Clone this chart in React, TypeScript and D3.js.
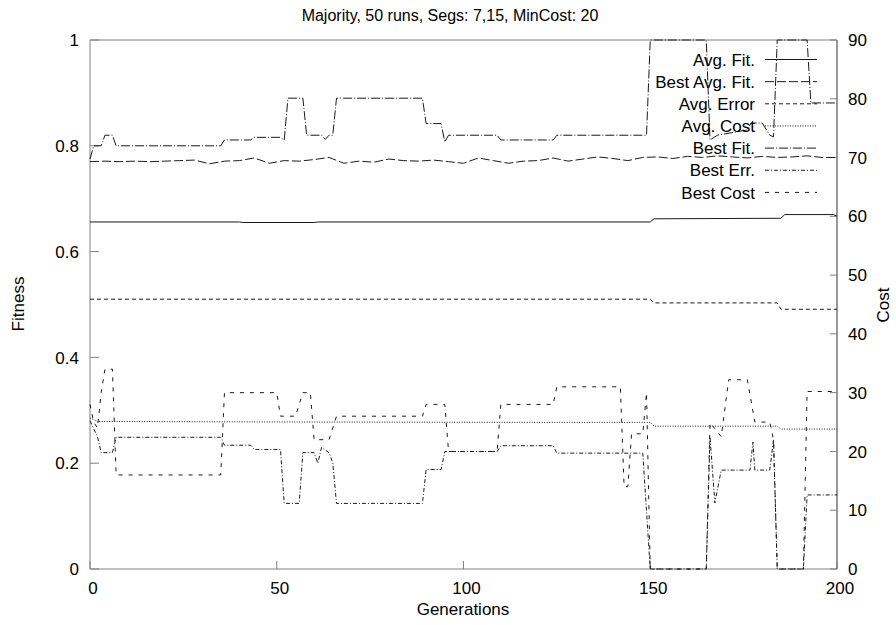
import React from "react";
import * as d3 from "d3";

const TITLE = "Majority, 50 runs, Segs: 7,15, MinCost: 20";
const genTicks = [0, 50, 100, 150, 200];
const fitTicks = [0, 0.2, 0.4, 0.6, 0.8, 1];
const costTicks = [0, 10, 20, 30, 40, 50, 60, 70, 80, 90];

const avgFit: [number, number][] = [
  [0, 0.656], [40, 0.656], [41, 0.655], [60, 0.655], [61, 0.656], [150, 0.656],
  [151, 0.662], [185, 0.663], [186, 0.670], [199, 0.670], [200, 0.667],
];

const bestAvgFitGen = [0, 4, 8, 12, 16, 20, 24, 28, 32, 36, 40, 44, 48, 52, 56, 60, 64, 68, 72, 76, 80, 84, 88, 92, 96, 100, 104, 108, 112, 116, 120, 124, 128, 132, 136, 140, 144, 148, 152, 156, 160, 164, 168, 172, 176, 180, 184, 188, 192, 196, 200];
const bestAvgFitVal = [0.770, 0.771, 0.770, 0.771, 0.770, 0.771, 0.772, 0.773, 0.766, 0.771, 0.772, 0.777, 0.767, 0.772, 0.771, 0.774, 0.778, 0.767, 0.771, 0.769, 0.775, 0.772, 0.771, 0.773, 0.770, 0.767, 0.777, 0.772, 0.767, 0.771, 0.772, 0.777, 0.771, 0.775, 0.779, 0.776, 0.772, 0.778, 0.779, 0.776, 0.780, 0.778, 0.781, 0.779, 0.777, 0.780, 0.778, 0.779, 0.781, 0.778, 0.778];

const avgError: [number, number][] = [
  [0, 0.51], [150, 0.51], [151, 0.503], [184, 0.503], [185, 0.491], [200, 0.491],
];

const avgCost: [number, number][] = [
  [0, 25.7], [2, 25.1], [60, 25.0], [120, 24.95], [150, 24.95], [151, 24.3], [184, 24.3], [185, 23.8], [200, 23.8],
];

const bestFit: [number, number][] = [
  [0, 0.775], [1, 0.80], [3, 0.80], [4, 0.82], [6, 0.82], [7, 0.80], [35, 0.80], [36, 0.811], [43, 0.811],
  [44, 0.816], [51, 0.816], [52, 0.811], [53, 0.89], [57, 0.89], [58, 0.82], [62, 0.82], [63, 0.812],
  [64, 0.82], [65, 0.82], [66, 0.89], [89, 0.89], [90, 0.842], [94, 0.842], [95, 0.807], [96, 0.82],
  [109, 0.82], [110, 0.811], [124, 0.811], [125, 0.82], [149, 0.82], [150, 1.0], [165, 1.0],
  [166, 0.811], [168, 0.82], [176, 0.83], [177, 0.843], [180, 0.843], [182, 0.82], [183, 0.817],
  [184, 1.0], [192, 1.0], [193, 0.881], [200, 0.881],
];

const bestErr: [number, number][] = [
  [0, 0.28], [2, 0.25], [3, 0.22], [6, 0.22], [7, 0.249], [35, 0.249], [36, 0.234], [43, 0.234],
  [44, 0.226], [51, 0.226], [52, 0.124], [56, 0.124], [57, 0.22], [60, 0.22], [61, 0.20], [62, 0.23],
  [64, 0.22], [65, 0.20], [66, 0.124], [89, 0.124], [90, 0.188], [94, 0.188], [95, 0.222], [109, 0.222],
  [110, 0.233], [124, 0.233], [125, 0.219], [148, 0.219], [150, 0], [165, 0], [166, 0.25], [167.3, 0.125],
  [169, 0.187], [176.7, 0.187], [177.5, 0.24], [178, 0.187], [182, 0.187], [183, 0.244], [184, 0],
  [191, 0], [192, 0.14], [200, 0.14],
];

const bestCost: [number, number][] = [
  [0, 28], [1, 25], [2, 24], [3, 30], [4, 34], [6, 34], [7, 16], [35, 16], [36, 30], [50, 30],
  [51, 26], [55, 26], [57, 30], [59, 30], [60, 22], [64, 22], [66, 26], [89, 26], [90, 28], [95, 28],
  [96, 20], [109, 20], [110, 28], [124, 28], [125, 31], [142, 31], [143, 14], [144, 14], [145, 23],
  [148, 23], [149, 30], [150, 0], [165, 0], [166, 24.9], [169, 22.5], [171, 32.2], [176, 32.2],
  [178, 25], [182, 25], [183, 22], [184, 0], [191, 0], [192, 30.2], [200, 30.2],
];

const W = 896, H = 625;
const L = 90, R = 837, T = 40, B = 569;

export default function App() {
  const x = d3.scaleLinear().domain([0, 200]).range([L, R]);
  const yF = d3.scaleLinear().domain([0, 1]).range([B, T]);
  const yC = d3.scaleLinear().domain([0, 90]).range([B, T]);
  const lineF = d3.line<[number, number]>().x(d => x(d[0])).y(d => yF(d[1]));
  const lineC = d3.line<[number, number]>().x(d => x(d[0])).y(d => yC(d[1]));
  const bestAvg: [number, number][] = bestAvgFitGen.map((g, i) => [g, bestAvgFitVal[i]]);

  const font = "'Liberation Sans', Arial, Helvetica, sans-serif";
  const lc = "#1a1a1a";
  const series = [
    { name: "Avg. Fit.", d: lineF(avgFit), dash: "none" },
    { name: "Best Avg. Fit.", d: lineF(bestAvg), dash: "9,3" },
    { name: "Avg. Error", d: lineF(avgError), dash: "4,3" },
    { name: "Avg. Cost", d: lineC(avgCost), dash: "1,1.5" },
    { name: "Best Fit.", d: lineF(bestFit), dash: "9,2,1,2" },
    { name: "Best Err.", d: lineF(bestErr), dash: "4,2,1,2" },
    { name: "Best Cost", d: lineC(bestCost), dash: "4,6" },
  ];
  const legY0 = 59.5, legStep = 22.15;

  return (
    <svg width={W} height={H} style={{ display: "block", position: "absolute", left: 0, top: 0 }} fontFamily={font}>
      <rect width={W} height={H} fill="#fff" />
      <defs>
        <clipPath id="plot">
          <rect x={L - 1} y={T - 1} width={R - L + 2} height={B - T + 2} />
        </clipPath>
      </defs>
      <text x={450} y={20.5} fontSize={16} textAnchor="middle" fill="#000">{TITLE}</text>
      <line x1={L} y1={T} x2={R} y2={T} stroke="#808080" />
      <line x1={L} y1={T} x2={L} y2={B} stroke="#808080" />
      <line x1={L} y1={B} x2={R} y2={B} stroke="#808080" />
      <line x1={R} y1={T} x2={R} y2={B} stroke="#333" />
      {fitTicks.map(t => (
        <g key={"f" + t}>
          <line x1={L} x2={L + 9} y1={yF(t)} y2={yF(t)} stroke="#808080" />
          <text x={79} y={yF(t)} dy="0.36em" fontSize={17} textAnchor="end">{t === 0 || t === 1 ? String(t) : t.toFixed(1)}</text>
        </g>
      ))}
      {costTicks.map(t => (
        <g key={"c" + t}>
          <line x1={R - 7} x2={R} y1={yC(t)} y2={yC(t)} stroke="#808080" />
          <text x={848} y={yC(t)} dy="0.36em" fontSize={17} textAnchor="start">{t}</text>
        </g>
      ))}
      {genTicks.map(t => (
        <g key={"g" + t}>
          <line x1={x(t)} x2={x(t)} y1={B} y2={B - 8} stroke="#808080" />
          <text x={x(t) + 3} y={588} dy="0.36em" fontSize={17} textAnchor="middle">{t}</text>
        </g>
      ))}
      <text x={463} y={609} dy="0.36em" fontSize={17} textAnchor="middle">Generations</text>
      <text transform="translate(18,304) rotate(-90)" dy="0.36em" fontSize={17} textAnchor="middle">Fitness</text>
      <text transform="translate(883,305) rotate(-90)" dy="0.36em" fontSize={17} textAnchor="middle">Cost</text>
      <g clipPath="url(#plot)">
        {series.map(s => (
          <path key={s.name} d={s.d ?? ""} fill="none" stroke={lc} strokeWidth={1} strokeDasharray={s.dash} />
        ))}
      </g>
      {series.map((s, i) => (
        <g key={"leg" + s.name}>
          <text x={755} y={legY0 + i * legStep} dy="0.36em" fontSize={17} textAnchor="end">{s.name}</text>
          <line x1={765} x2={817} y1={legY0 + i * legStep} y2={legY0 + i * legStep} stroke={lc} strokeDasharray={s.dash} />
        </g>
      ))}
    </svg>
  );
}
